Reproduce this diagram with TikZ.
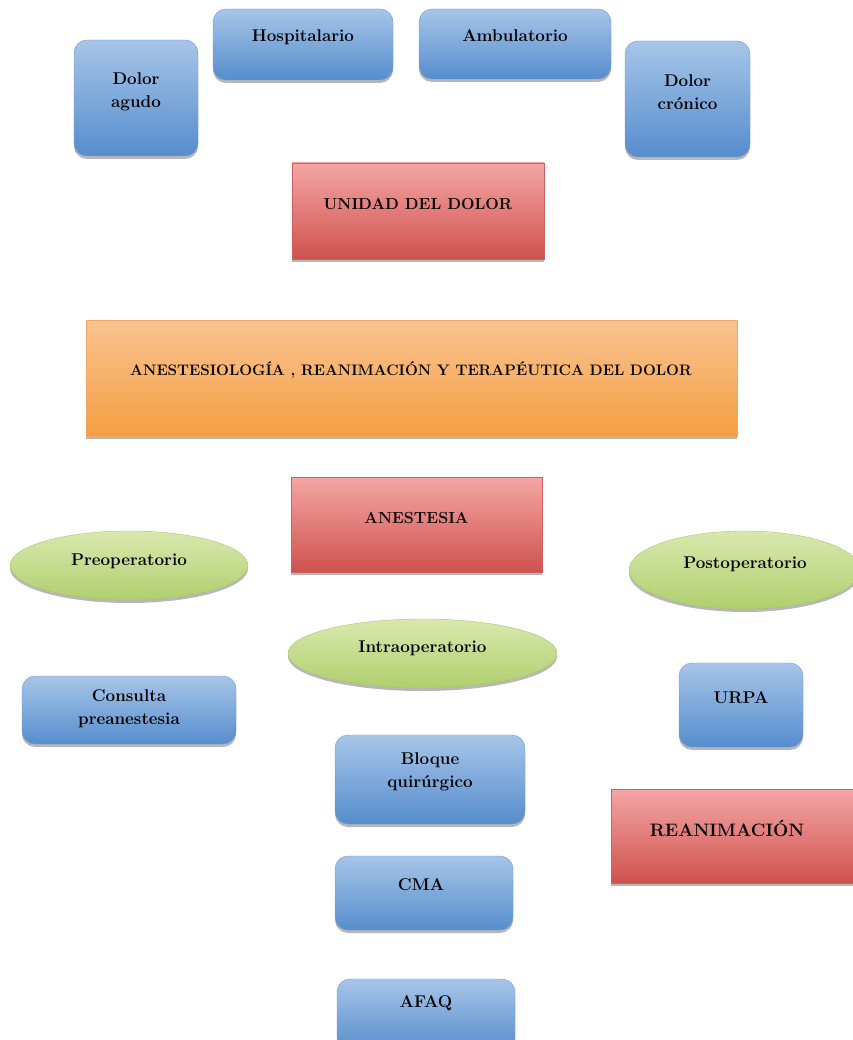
\documentclass[tikz,border=0pt]{standalone}
\usetikzlibrary{shapes.geometric, shadows}

\definecolor{bluetop}{RGB}{167,197,232}
\definecolor{bluebot}{RGB}{86,141,205}
\definecolor{blueline}{RGB}{112,152,208}
\definecolor{redtop}{RGB}{244,166,165}
\definecolor{redbot}{RGB}{207,82,78}
\definecolor{redline}{RGB}{204,96,92}
\definecolor{orgtop}{RGB}{250,196,146}
\definecolor{orgbot}{RGB}{244,158,66}
\definecolor{orgline}{RGB}{242,168,100}
\definecolor{grntop}{RGB}{217,232,174}
\definecolor{grnbot}{RGB}{176,207,110}
\definecolor{grnline}{RGB}{168,198,108}

\tikzset{
  shad/.style={drop shadow={shadow xshift=0pt, shadow yshift=-3pt, opacity=0.4, fill=black!70}},
  bluebox/.style={shad, rounded corners=13pt, draw=blueline, top color=bluetop, bottom color=bluebot, inner sep=0pt},
  redbox/.style={shad, draw=redline, top color=redtop, bottom color=redbot, inner sep=0pt},
  orgbox/.style={shad, draw=orgline, top color=orgtop, bottom color=orgbot, inner sep=0pt},
  grnell/.style={shad, ellipse, draw=grnline, top color=grntop, bottom color=grnbot, inner sep=0pt},
  lbl/.style={font=\fontsize{17}{23}\selectfont\bfseries, align=center, inner sep=0pt}
}

\begin{document}
\begin{tikzpicture}[x=1pt, y=-1pt]
  \useasboundingbox (0,0) rectangle (852,1040);

  % --- cajas azules ---
  \foreach \nm/\cx/\cy/\w/\h/\tx/\ty/\txt in {
      agudo/136/98/124/116/136/92/{Dolor\\agudo},
      hosp/303/44.5/180/71/303/37/{Hospitalario},
      ambu/515/44/192/70/515/36/{Ambulatorio},
      cronico/687.5/99/125/116/687.5/92/{Dolor\\crónico},
      consulta/129/710/214/68/129/709/{Consulta\\preanestesia},
      urpa/741/705/124/84/741/698/{URPA},
      bloque/430/779.5/190/89/430/772/{Bloque\\quirúrgico},
      cma/424/893/178/74/421/885/{CMA},
      afaq/426/1015/178/72/426/1003/{AFAQ}} {
    \node[bluebox, minimum width=\w pt, minimum height=\h pt] (\nm) at (\cx,\cy) {};
    \node[lbl] (\nm-txt) at (\tx,\ty) {\txt};
  }

  % --- cajas rojas ---
  \node[redbox, minimum width=252pt, minimum height=96pt] (unidad) at (418,211) {};
  \node[lbl, font=\fontsize{16}{20}\selectfont\bfseries] (unidad-txt) at (418,204) {UNIDAD DEL DOLOR};
  \node[redbox, minimum width=251pt, minimum height=95pt] (anestesia) at (416.5,524.5) {};
  \node[lbl, font=\fontsize{16}{20}\selectfont\bfseries] (anestesia-txt) at (416.5,518) {ANESTESIA};
  \node[redbox, minimum width=250pt, minimum height=94pt] (reanim) at (736,836) {};
  \node[lbl, font=\fontsize{18}{22}\selectfont\bfseries] (reanim-txt) at (727,828) {REANIMACIÓN};

  % --- caja naranja ---
  \node[orgbox, minimum width=651pt, minimum height=116pt] (ardt) at (411.5,378) {};
  \node[lbl, font=\fontsize{15.2}{18}\selectfont\bfseries] (ardt-txt) at (411,370)
    {ANESTESIOLOGÍA , REANIMACIÓN Y TERAPÉUTICA DEL DOLOR};

  % --- elipses verdes ---
  \node[grnell, minimum width=238pt, minimum height=69pt] (preop) at (129,565.5) {};
  \node[lbl] (preop-txt) at (129,561) {Preoperatorio};
  \node[grnell, minimum width=231pt, minimum height=78pt] (postop) at (744.5,570) {};
  \node[lbl] (postop-txt) at (745,564) {Postoperatorio};
  \node[grnell, minimum width=269pt, minimum height=69pt] (intra) at (422.5,653.5) {};
  \node[lbl] (intra-txt) at (422.5,648) {Intraoperatorio};
\end{tikzpicture}
\end{document}
